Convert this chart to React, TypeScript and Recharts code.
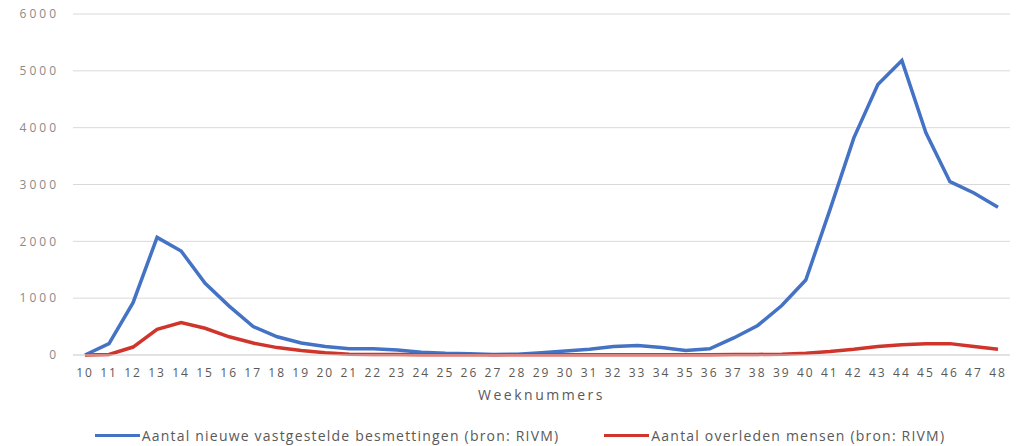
import React from 'react';
import { LineChart, Line, XAxis, YAxis, CartesianGrid, Legend } from 'recharts';

const weeks = [10, 11, 12, 13, 14, 15, 16, 17, 18, 19, 20, 21, 22, 23, 24, 25, 26, 27, 28, 29, 30, 31, 32, 33, 34, 35, 36, 37, 38, 39, 40, 41, 42, 43, 44, 45, 46, 47, 48];
const besmettingen = [0, 200, 920, 2070, 1830, 1260, 860, 500, 320, 210, 150, 110, 110, 90, 50, 30, 20, 10, 15, 40, 70, 100, 150, 165, 130, 80, 110, 300, 520, 870, 1320, 2550, 3820, 4760, 5180, 3910, 3050, 2850, 2600];
const overleden = [0, 10, 140, 450, 570, 470, 320, 210, 130, 80, 40, 15, 10, 10, 5, 5, 5, 3, 3, 3, 3, 5, 5, 5, 5, 5, 5, 10, 10, 15, 30, 60, 100, 150, 180, 200, 200, 150, 100];
const yTicks = [0, 1000, 2000, 3000, 4000, 5000, 6000];
const seriesNames = ['Aantal nieuwe vastgestelde besmettingen (bron: RIVM)', 'Aantal overleden mensen (bron: RIVM)'];
const xTitle = 'Weeknummers';

const data = weeks.map((w, i) => ({ week: w, a: besmettingen[i], b: overleden[i] }));

const FONT = '"Open Sans", sans-serif';
const BLUE = '#4472c4';
const RED = '#d0352c';

const renderLegend = (props: any) => {
  const payload = props.payload || [];
  return (
    <div style={{ display: 'flex', justifyContent: 'center', alignItems: 'center', paddingTop: 20, paddingLeft: 17, height: 21, fontFamily: FONT, fontSize: 14, color: '#595959' }}>
      {payload.map((p: any, i: number) => (
        <div key={i} style={{ display: 'flex', alignItems: 'center', marginRight: i === 0 ? 45 : 0 }}>
          <span style={{ display: 'inline-block', width: 45, height: 3, background: p.color, marginRight: 2 }} />
          <span style={{ letterSpacing: 1.2, whiteSpace: 'nowrap' }}>{p.value}</span>
        </div>
      ))}
    </div>
  );
};

export default function App() {
  return (
    <div style={{ position: 'absolute', left: 0, top: 0, width: 1023, height: 446, background: '#fff' }}>
      <LineChart width={1023} height={446} data={data} margin={{ top: 14, right: 13, left: 13, bottom: 0 }}>
        <CartesianGrid vertical={false} stroke="#d9d9d9" strokeWidth={1} />
        <XAxis
          dataKey="week"
          type="category"
          padding={{ left: 12, right: 12 }}
          axisLine={{ stroke: '#d9d9d9' }}
          tickLine={false}
          tickMargin={7}
          height={50}
          interval={0}
          tick={{ fill: '#595959', fontSize: 12, fontFamily: FONT, letterSpacing: 2 }}
          label={{ value: xTitle, position: 'insideBottom', offset: 5, fill: '#595959', fontSize: 14, fontFamily: FONT, letterSpacing: 2.5 }}
        />
        <YAxis
          domain={[0, 6000]}
          ticks={yTicks}
          axisLine={false}
          tickLine={false}
          width={60}
          tickMargin={8}
          tick={{ fill: '#8a8a8a', fontSize: 12, fontFamily: FONT, letterSpacing: 3 }}
        />
        <Legend verticalAlign="bottom" content={renderLegend} />
        <Line type="linear" dataKey="a" name={seriesNames[0]} stroke={BLUE} strokeWidth={3.5} dot={false} isAnimationActive={false} />
        <Line type="linear" dataKey="b" name={seriesNames[1]} stroke={RED} strokeWidth={3.5} dot={false} isAnimationActive={false} />
      </LineChart>
    </div>
  );
}
